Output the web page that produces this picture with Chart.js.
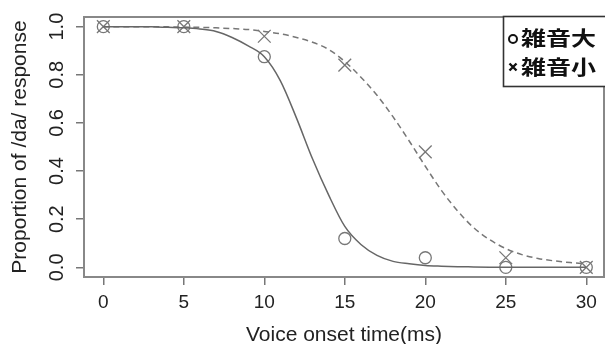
<!DOCTYPE html>
<html>
<head>
<meta charset="utf-8">
<script src="https://cdn.jsdelivr.net/npm/chart.js@4"></script>
<style>
  html, body { margin: 0; padding: 0; background: #fff; }
  #wrap { width: 605px; height: 344px; }
</style>
</head>
<body>
<div id="wrap"><canvas id="chart" width="605" height="344"></canvas></div>
<script>
// Points mesurés
const vot = [0, 5, 10, 15, 20, 25, 30];
const bruitFort = [1.0, 1.0, 0.875, 0.12, 0.04, 0.0, 0.0];
const bruitFaible = [1.0, 1.0, 0.96, 0.84, 0.48, 0.04, 0.0];

// Courbes ajustées
const courbeX = [0, 1, 2, 3, 4, 5, 6, 7, 8, 9, 10, 11, 12, 13, 14, 15,
                 16, 17, 18, 19, 20, 21, 22, 23, 24, 25, 26, 27, 28, 29, 30];
const courbeFort = [1.0, 1.0, 1.0, 0.999, 0.997, 0.995, 0.99, 0.98, 0.955, 0.92, 0.875,
                    0.775, 0.62, 0.45, 0.30, 0.17, 0.095, 0.05, 0.025, 0.015, 0.008,
                    0.005, 0.003, 0.002, 0.001, 0.0, 0.0, 0.0, 0.0, 0.0, 0.0];
const courbeFaible = [1.0, 1.0, 1.0, 1.0, 0.999, 0.998, 0.997, 0.995, 0.992, 0.988, 0.98,
                      0.97, 0.955, 0.935, 0.905, 0.855, 0.79, 0.715, 0.625, 0.525, 0.42,
                      0.32, 0.235, 0.165, 0.115, 0.078, 0.053, 0.037, 0.027, 0.02, 0.015];

const xTicks = [0, 5, 10, 15, 20, 25, 30];
const yTicks = [0.0, 0.2, 0.4, 0.6, 0.8, 1.0];
const legendeLabels = ['雑音大', '雑音小'];

const toXY = (xs, ys) => xs.map((x, i) => ({ x: x, y: ys[i] }));

// Cadre du graphique + étiquettes Y tournées + légende
const decor = {
    id: 'decor',
    beforeDatasetsDraw(chart) {
        const { ctx, chartArea: a } = chart;
        ctx.save();
        ctx.strokeStyle = '#888';
        ctx.lineWidth = 2;
        ctx.strokeRect(a.left, a.top, a.right - a.left, a.bottom - a.top);
        ctx.restore();
    },
    afterDraw(chart) {
        const { ctx } = chart;
        const yScale = chart.scales.y;

        ctx.save();
        ctx.fillStyle = '#222';
        ctx.font = '20px "Liberation Sans", Arial, sans-serif';
        ctx.textAlign = 'center';
        ctx.textBaseline = 'alphabetic';
        yTicks.forEach(v => {
            ctx.save();
            ctx.translate(63, yScale.getPixelForValue(v));
            ctx.rotate(-Math.PI / 2);
            ctx.fillText(v.toFixed(1), 0, 0);
            ctx.restore();
        });
        ctx.restore();

        // Légende
        ctx.save();
        ctx.fillStyle = '#fff';
        ctx.fillRect(503, 16, 110, 70);
        ctx.strokeStyle = '#333';
        ctx.lineWidth = 1.6;
        ctx.strokeRect(503.5, 16.5, 110, 70);

        ctx.strokeStyle = '#111';
        ctx.lineWidth = 2;
        ctx.beginPath();
        ctx.arc(513, 39, 4, 0, Math.PI * 2);
        ctx.stroke();
        ctx.lineWidth = 2.4;
        ctx.beginPath();
        ctx.moveTo(509.5, 63.5); ctx.lineTo(516.5, 70.5);
        ctx.moveTo(516.5, 63.5); ctx.lineTo(509.5, 70.5);
        ctx.stroke();

        ctx.fillStyle = '#111';
        ctx.font = 'bold 20px "Noto Sans CJK JP", sans-serif';
        ctx.textAlign = 'left';
        ctx.textBaseline = 'middle';
        [38, 67].forEach((y, i) => {
            const w = ctx.measureText(legendeLabels[i]).width;
            ctx.save();
            ctx.translate(521, y);
            ctx.scale(75 / w, 1);
            ctx.fillText(legendeLabels[i], 0, 0);
            ctx.restore();
        });
        ctx.restore();
    }
};

new Chart(document.getElementById('chart'), {
    type: 'line',
    data: {
        datasets: [
            {
                label: legendeLabels[0] + ' fit',
                data: toXY(courbeX, courbeFort),
                borderColor: '#666',
                borderWidth: 1.5,
                pointRadius: 0,
                cubicInterpolationMode: 'monotone',
                fill: false
            },
            {
                label: legendeLabels[1] + ' fit',
                data: toXY(courbeX, courbeFaible),
                borderColor: '#777',
                borderWidth: 1.5,
                borderDash: [6, 4],
                pointRadius: 0,
                cubicInterpolationMode: 'monotone',
                fill: false
            },
            {
                label: legendeLabels[0],
                data: toXY(vot, bruitFort),
                showLine: false,
                pointStyle: 'circle',
                pointRadius: 6,
                pointBorderWidth: 1.3,
                pointBorderColor: '#777',
                pointBackgroundColor: 'rgba(0,0,0,0)'
            },
            {
                label: legendeLabels[1],
                data: toXY(vot, bruitFaible),
                showLine: false,
                pointStyle: 'crossRot',
                pointRadius: 9,
                pointBorderWidth: 1.3,
                pointBorderColor: '#777',
                pointBackgroundColor: 'rgba(0,0,0,0)'
            }
        ]
    },
    options: {
        responsive: false,
        animation: false,
        layout: { autoPadding: false, padding: { left: 0, right: 1, top: 17, bottom: 0 } },
        plugins: {
            legend: { display: false },
            tooltip: { enabled: false }
        },
        scales: {
            x: {
                type: 'linear',
                min: -1.2,
                max: 31.1,
                afterBuildTicks: s => { s.ticks = xTicks.map(v => ({ value: v })); },
                afterFit: s => { s.height = 67; s.paddingLeft = 0; s.paddingRight = 0; },
                grid: { drawOnChartArea: false, drawTicks: true, tickLength: 8, color: '#777', lineWidth: 1.5 },
                border: { display: false },
                ticks: {
                    color: '#222',
                    font: { family: '"Liberation Sans", Arial, sans-serif', size: 19 },
                    padding: 6,
                    maxRotation: 0
                },
                title: {
                    display: true,
                    text: 'Voice onset time(ms)',
                    color: '#222',
                    font: { family: '"Liberation Sans", Arial, sans-serif', size: 21, lineHeight: 0.8 },
                    padding: { top: 0, bottom: 0 }
                }
            },
            y: {
                type: 'linear',
                min: -0.04,
                max: 1.04,
                afterBuildTicks: s => { s.ticks = yTicks.map(v => ({ value: v })); },
                afterFit: s => { s.width = 84; s.paddingTop = 0; s.paddingBottom = 0; },
                grid: { drawOnChartArea: false, drawTicks: true, tickLength: 8, color: '#777', lineWidth: 1.5 },
                border: { display: false },
                ticks: { display: false },
                title: {
                    display: true,
                    text: 'Proportion of /da/ response',
                    color: '#222',
                    font: { family: '"Liberation Sans", Arial, sans-serif', size: 21, lineHeight: 0.8 },
                    padding: { top: 12, bottom: 0 }
                }
            }
        }
    },
    plugins: [decor]
});
</script>
</body>
</html>
